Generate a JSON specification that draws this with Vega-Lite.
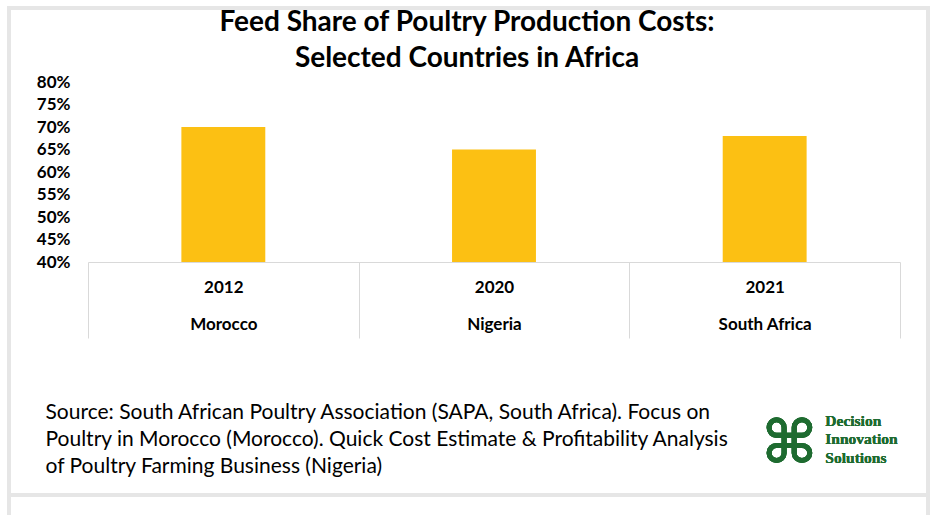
{
  "$schema": "https://vega.github.io/schema/vega-lite/v6.json",
  "width": 812,
  "height": 180,
  "autosize": {"type": "none"},
  "padding": {"left": 88, "top": 82, "right": 31, "bottom": 253},
  "background": "white",
  "title": {
    "text": ["Feed Share of Poultry Production Costs:", "Selected Countries in Africa"],
    "font": "Lato, sans-serif",
    "fontSize": 28,
    "fontWeight": "bold",
    "color": "#000000",
    "anchor": "middle",
    "dx": -27,
    "dy": 68,
    "lineHeight": 36,
    "offset": 1
  },
  "data": {
    "values": [
      {"category": "2012|Morocco", "share": 0.70},
      {"category": "2020|Nigeria", "share": 0.65},
      {"category": "2021|South Africa", "share": 0.68}
    ]
  },
  "layer": [
    {
      "mark": {"type": "rect", "filled": false, "stroke": "#E6E6E6", "strokeWidth": 4, "xOffset": -79, "x2Offset": 28, "yOffset": -74, "y2Offset": 233, "clip": false},
      "encoding": {
        "x": {"datum": "2012|Morocco", "bandPosition": 0, "axis": null},
        "x2": {"datum": "2021|South Africa", "bandPosition": 1},
        "y": {"datum": 0.8, "axis": null},
        "y2": {"datum": 0.4}
      }
    },
    {
      "mark": {"type": "rect", "filled": false, "stroke": "#E6E6E6", "strokeWidth": 4, "xOffset": -79, "x2Offset": 28, "yOffset": 233, "y2Offset": 300, "clip": false},
      "encoding": {
        "x": {"datum": "2012|Morocco", "bandPosition": 0, "axis": null},
        "x2": {"datum": "2021|South Africa", "bandPosition": 1},
        "y": {"datum": 0.4, "axis": null},
        "y2": {"datum": 0.4}
      }
    },
    {
      "mark": {"type": "bar", "color": "#FCC013", "width": {"band": 0.31}},
      "encoding": {
        "x": {
          "field": "category",
          "type": "nominal",
          "sort": null,
          "scale": {"domain": ["2012|Morocco", "2020|Nigeria", "2021|South Africa"], "paddingInner": 0, "paddingOuter": 0},
          "axis": {
            "title": ["Source: South African Poultry Association (SAPA, South Africa). Focus on", "Poultry in Morocco (Morocco). Quick Cost Estimate & Profitability Analysis", "of Poultry Farming Business (Nigeria)"],
            "titleFont": "Lato, sans-serif",
            "titleFontSize": 21,
            "titleFontWeight": "normal",
            "titleColor": "#000000",
            "titleAnchor": "start",
            "titleAlign": "left",
            "titleBaseline": "alphabetic",
            "titleX": -43,
            "titleY": 156,
            "titleLineHeight": 27,
            "labelExpr": "split(datum.label, '|')",
            "labelAngle": 0,
            "labelFont": "Lato, sans-serif",
            "labelFontSize": 17,
            "labelFontWeight": "bold",
            "labelColor": "#000000",
            "labelBaseline": "alphabetic",
            "labelLineHeight": 37,
            "labelPadding": -46,
            "labelOverlap": false,
            "labelBound": false,
            "tickBand": "extent",
            "tickSize": 76,
            "tickColor": "#D9D9D9",
            "domainColor": "#D9D9D9",
            "grid": false
          }
        },
        "y": {
          "field": "share",
          "type": "quantitative",
          "scale": {"domain": [0.4, 0.8], "nice": false, "zero": false},
          "axis": {
            "title": null,
            "values": [0.4, 0.45, 0.5, 0.55, 0.6, 0.65, 0.7, 0.75, 0.8],
            "tickCount": 9,
            "format": ".0%",
            "labelFont": "Lato, sans-serif",
            "labelFontSize": 17,
            "labelFontWeight": "bold",
            "labelColor": "#000000",
            "labelPadding": 18,
            "labelOverlap": false,
            "domain": false,
            "ticks": false,
            "gridColor": "#D9D9D9"
          }
        },
        "y2": {"datum": 0.4}
      }
    },
    {
      "mark": {"type": "text", "align": "center", "baseline": "middle", "font": "DejaVu Sans", "fontSize": 60, "fontWeight": "bold", "color": "#1E6B30", "dx": 160, "dy": 8, "clip": false},
      "encoding": {
        "x": {"datum": "2021|South Africa", "bandPosition": 0, "axis": null},
        "y": {"datum": 0.011, "axis": null},
        "text": {"value": "⌘"}
      }
    },
    {
      "mark": {"type": "text", "align": "left", "baseline": "middle", "font": "Liberation Serif, DejaVu Serif, serif", "fontSize": 15.5, "fontWeight": "bold", "color": "#1E6B30", "lineHeight": 18.5, "dx": 196, "dy": 1, "clip": false},
      "encoding": {
        "x": {"datum": "2021|South Africa", "bandPosition": 0, "axis": null},
        "y": {"datum": 0.049, "axis": null},
        "text": {"value": ["Decision", "Innovation", "Solutions"]}
      }
    }
  ],
  "resolve": {"axis": {"x": "independent", "y": "independent"}},
  "config": {"view": {"stroke": null}}
}
